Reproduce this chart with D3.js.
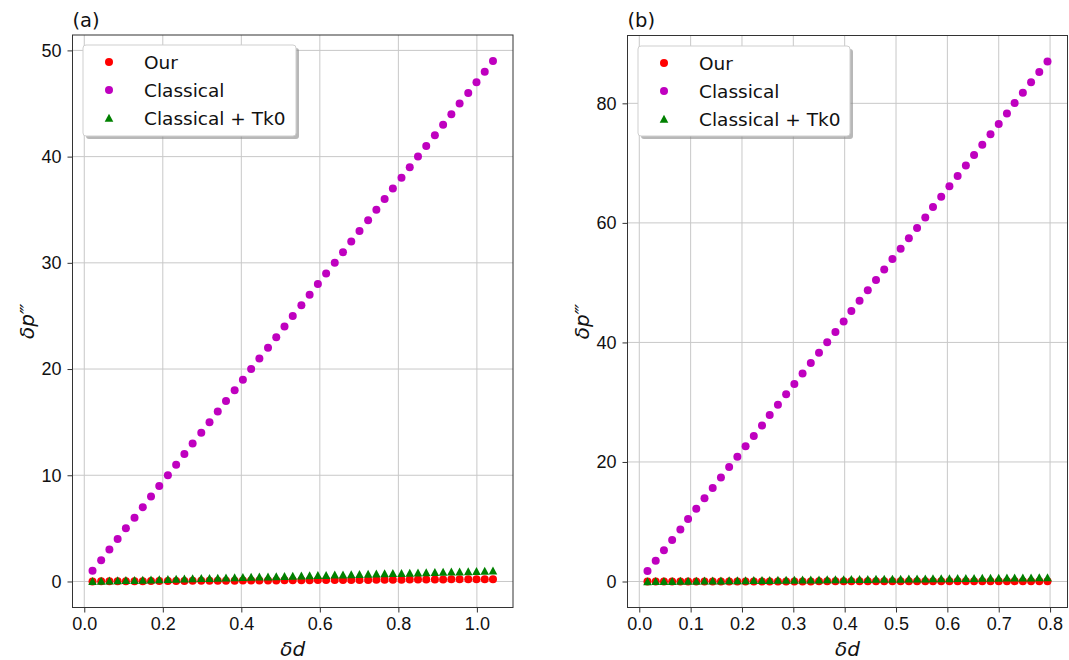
<!DOCTYPE html>
<html>
<head>
<meta charset="utf-8">
<style>
    body { margin: 0; background: #fff; }
    svg { font-family: 'DejaVu Sans', sans-serif; }
    .tick text { font-size: 18px; fill: #111; }
    .tick line { stroke: #333; }
    .domain { display: none; }
    .grid line { stroke: #c8c8c8; stroke-width: 1px; }
    .frame { fill: none; stroke: #333; stroke-width: 1px; }
    .lbl { font-size: 20px; font-style: italic; fill: #111; }
    .panel { font-size: 19.5px; fill: #111; }
    .leg text { font-size: 18.5px; fill: #111; }
</style>
</head>
<body>
<svg width="1069" height="660"></svg>

<script src="https://d3js.org/d3.v7.min.js"></script>
<script>
// panel (a)
const dA = [0.021, 0.043, 0.064, 0.085, 0.106, 0.128, 0.149, 0.170, 0.191, 0.213,
    0.234, 0.255, 0.276, 0.298, 0.319, 0.340, 0.361, 0.383, 0.404, 0.425,
    0.446, 0.468, 0.489, 0.510, 0.531, 0.553, 0.574, 0.595, 0.616, 0.638,
    0.659, 0.680, 0.701, 0.723, 0.744, 0.765, 0.786, 0.808, 0.829, 0.850,
    0.871, 0.893, 0.914, 0.935, 0.956, 0.978, 0.999, 1.020, 1.041]
const ourA = [0.00, 0.01, 0.01, 0.02, 0.02, 0.03, 0.03, 0.04, 0.04, 0.05,
    0.05, 0.05, 0.06, 0.06, 0.07, 0.07, 0.08, 0.08, 0.09, 0.09,
    0.09, 0.10, 0.10, 0.11, 0.11, 0.12, 0.12, 0.13, 0.13, 0.14,
    0.14, 0.14, 0.15, 0.15, 0.16, 0.16, 0.17, 0.17, 0.18, 0.18,
    0.18, 0.19, 0.19, 0.20, 0.20, 0.21, 0.21, 0.22, 0.22]
const classicalA = [1, 2, 3, 4, 5, 6, 7, 8, 9, 10,
    11, 12, 13, 14, 15, 16, 17, 18, 19, 20,
    21, 22, 23, 24, 25, 26, 27, 28, 29, 30,
    31, 32, 33, 34, 35, 36, 37, 38, 39, 40,
    41, 42, 43, 44, 45, 46, 47, 48, 49]
const tk0A = [0.02, 0.04, 0.06, 0.08, 0.10, 0.12, 0.14, 0.16, 0.18, 0.21,
    0.23, 0.25, 0.27, 0.29, 0.31, 0.33, 0.35, 0.37, 0.39, 0.41,
    0.43, 0.45, 0.47, 0.49, 0.51, 0.53, 0.55, 0.57, 0.59, 0.62,
    0.64, 0.66, 0.68, 0.70, 0.72, 0.74, 0.76, 0.78, 0.80, 0.82,
    0.84, 0.86, 0.88, 0.90, 0.92, 0.94, 0.96, 0.98, 1.00]
const xTicksA = [0.0, 0.2, 0.4, 0.6, 0.8, 1.0]
const yTicksA = [0, 10, 20, 30, 40, 50]

// panel (b)
const dB = [0.016, 0.032, 0.048, 0.064, 0.080, 0.095, 0.111, 0.127, 0.143, 0.159,
    0.175, 0.191, 0.207, 0.223, 0.239, 0.254, 0.270, 0.286, 0.302, 0.318,
    0.334, 0.350, 0.366, 0.382, 0.398, 0.413, 0.429, 0.445, 0.461, 0.477,
    0.493, 0.509, 0.525, 0.541, 0.557, 0.572, 0.588, 0.604, 0.620, 0.636,
    0.652, 0.668, 0.684, 0.700, 0.716, 0.731, 0.747, 0.763, 0.779, 0.795]
const ourB = [0.001, 0.002, 0.003, 0.004, 0.005, 0.006, 0.007, 0.008, 0.009, 0.010,
    0.011, 0.012, 0.013, 0.014, 0.015, 0.016, 0.017, 0.018, 0.019, 0.020,
    0.021, 0.022, 0.023, 0.024, 0.025, 0.026, 0.027, 0.028, 0.029, 0.030,
    0.031, 0.032, 0.033, 0.034, 0.035, 0.036, 0.037, 0.038, 0.039, 0.040,
    0.041, 0.042, 0.043, 0.044, 0.045, 0.046, 0.047, 0.048, 0.049, 0.050]
const classicalB = [1.74, 3.48, 5.22, 6.96, 8.70, 10.44, 12.18, 13.92, 15.66, 17.40,
    19.14, 20.88, 22.62, 24.36, 26.10, 27.84, 29.58, 31.32, 33.06, 34.80,
    36.54, 38.28, 40.02, 41.76, 43.50, 45.24, 46.98, 48.72, 50.46, 52.20,
    53.94, 55.68, 57.42, 59.16, 60.90, 62.64, 64.38, 66.12, 67.86, 69.60,
    71.34, 73.08, 74.82, 76.56, 78.30, 80.04, 81.78, 83.52, 85.26, 87.00]
const tk0B = [0.01, 0.03, 0.04, 0.05, 0.07, 0.08, 0.09, 0.11, 0.12, 0.13,
    0.15, 0.16, 0.17, 0.19, 0.20, 0.21, 0.23, 0.24, 0.25, 0.27,
    0.28, 0.29, 0.31, 0.32, 0.34, 0.35, 0.36, 0.38, 0.39, 0.40,
    0.42, 0.43, 0.44, 0.46, 0.47, 0.48, 0.50, 0.51, 0.52, 0.54,
    0.55, 0.56, 0.58, 0.59, 0.60, 0.62, 0.63, 0.64, 0.66, 0.67]
const xTicksB = [0.0, 0.1, 0.2, 0.3, 0.4, 0.5, 0.6, 0.7, 0.8]
const yTicksB = [0, 20, 40, 60, 80]

const seriesNames = ["Our", "Classical", "Classical + Tk0"]
const seriesColors = ["#ff0000", "#bf00bf", "#008000"]

let svg = d3.select("svg")

// matplotlib style 5% padding on the data range
function padded(vals) {
    let e = d3.extent(vals)
    let m = (e[1] - e[0]) * 0.05
    return [e[0] - m, e[1] + m]
}

const tri = "M0,-4.3L4.3,3.7L-4.3,3.7Z"

function drawPanel(opt) {
    let box = opt.box
    let x = d3.scaleLinear().domain(padded(opt.d)).range([box.left, box.right])
    let y = d3.scaleLinear()
        .domain(padded(opt.series.flat()))
        .range([box.bottom, box.top])

    let g = svg.append("g")

    // grid
    let grid = g.append("g").attr("class", "grid")
    grid.selectAll(".gx").data(opt.xTicks).join("line")
        .attr("x1", d => x(d)).attr("x2", d => x(d))
        .attr("y1", box.top).attr("y2", box.bottom)
    grid.selectAll(".gy").data(opt.yTicks).join("line")
        .attr("x1", box.left).attr("x2", box.right)
        .attr("y1", d => y(d)).attr("y2", d => y(d))

    g.append("g")
        .attr("transform", `translate(0,${box.bottom})`)
        .call(d3.axisBottom(x).tickValues(opt.xTicks).tickSize(5).tickPadding(5).tickFormat(d3.format(".1f")))
    g.append("g")
        .attr("transform", `translate(${box.left},0)`)
        .call(d3.axisLeft(y).tickValues(opt.yTicks).tickSize(5).tickPadding(6).tickFormat(d3.format("d")))

    // points: Our, Classical, then Tk0 on top
    opt.series.forEach(function(vals, i) {
        let pts = vals.map((v, j) => ({x: opt.d[j], y: v}))
        if (i == 2) {
            g.append("g").selectAll("path").data(pts).join("path")
                .attr("d", tri)
                .attr("transform", d => `translate(${x(d.x)},${y(d.y)})`)
                .attr("fill", seriesColors[i])
        } else {
            g.append("g").selectAll("circle").data(pts).join("circle")
                .attr("cx", d => x(d.x)).attr("cy", d => y(d.y))
                .attr("r", 4)
                .attr("fill", seriesColors[i])
        }
    })

    g.append("rect").attr("class", "frame")
        .attr("x", box.left).attr("y", box.top)
        .attr("width", box.right - box.left).attr("height", box.bottom - box.top)

    g.append("text").attr("class", "panel")
        .attr("x", box.left).attr("y", 27)
        .text(opt.tag)

    g.append("text").attr("class", "lbl")
        .attr("x", (box.left + box.right) / 2).attr("y", 656)
        .attr("text-anchor", "middle")
        .text("δd")
    g.append("text").attr("class", "lbl")
        .attr("transform", `translate(${box.left - 39},${(box.top + box.bottom) / 2}) rotate(-90)`)
        .attr("text-anchor", "middle")
        .text("δp‴")

    // legend with shadow
    let L = opt.legend
    let leg = g.append("g").attr("class", "leg")
    leg.append("rect")
        .attr("x", L.x + 3).attr("y", L.y + 3).attr("width", L.w).attr("height", L.h)
        .attr("rx", 3).attr("fill", "#888").attr("opacity", 0.6)
    leg.append("rect")
        .attr("x", L.x).attr("y", L.y).attr("width", L.w).attr("height", L.h)
        .attr("rx", 3).attr("fill", "#fff").attr("stroke", "#cfcfcf")
    seriesNames.forEach(function(name, i) {
        let cy = L.y + 17 + i * 28
        if (i == 2) {
            leg.append("path").attr("d", tri)
                .attr("transform", `translate(${L.x + 26},${cy})`)
                .attr("fill", seriesColors[i])
        } else {
            leg.append("circle").attr("cx", L.x + 26).attr("cy", cy).attr("r", 4)
                .attr("fill", seriesColors[i])
        }
        leg.append("text").attr("x", L.x + 61).attr("y", cy + 6.5).text(name)
    })
}

drawPanel({
    tag: "(a)",
    d: dA,
    series: [ourA, classicalA, tk0A],
    xTicks: xTicksA, yTicks: yTicksA,
    box: {left: 72.5, right: 513, top: 35, bottom: 607.5},
    legend: {x: 83, y: 45, w: 213, h: 91}
})

drawPanel({
    tag: "(b)",
    d: dB,
    series: [ourB, classicalB, tk0B],
    xTicks: xTicksB, yTicks: yTicksB,
    box: {left: 627.5, right: 1067.5, top: 35.5, bottom: 607.5},
    legend: {x: 638, y: 46, w: 212, h: 90}
})
</script>
</body>
</html>
